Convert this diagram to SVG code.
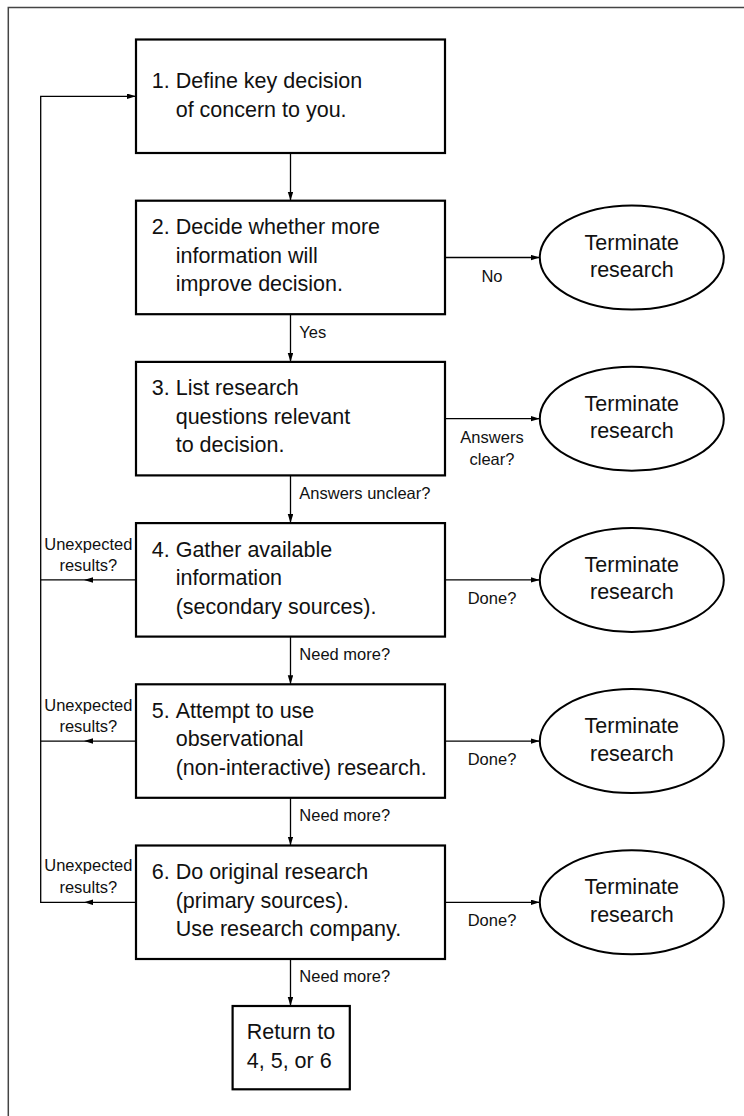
<svg xmlns="http://www.w3.org/2000/svg" width="744" height="1116" viewBox="0 0 744 1116">
<style>
.box{fill:#fff;stroke:#000;stroke-width:2.2}
.ell{fill:#fff;stroke:#000;stroke-width:2}
.t{font-family:"Liberation Sans",Arial,sans-serif;font-size:21.5px;fill:#111}
.l{font-family:"Liberation Sans",Arial,sans-serif;font-size:16.5px;fill:#111}
.c{fill:none;stroke:#000;stroke-width:1.3}
.frame{fill:none;stroke:#444;stroke-width:1.5}
</style>
<defs>
<marker id="ah" markerUnits="userSpaceOnUse" markerWidth="10" markerHeight="7" refX="9" refY="2.75" orient="auto">
<path d="M0,0 L9,2.75 L0,5.5 z" fill="#000"/>
</marker>
</defs>
<path class="frame" d="M8.3,1120 V7.5 H750"/>
<g id="connectors">
<path class="c" d="M290.5,153 V200.7" marker-end="url(#ah)"/>
<path class="c" d="M290.5,314.2 V361.9" marker-end="url(#ah)"/>
<path class="c" d="M290.5,475.4 V523.1" marker-end="url(#ah)"/>
<path class="c" d="M290.5,636.6 V684.3" marker-end="url(#ah)"/>
<path class="c" d="M290.5,797.8 V845.5" marker-end="url(#ah)"/>
<path class="c" d="M290.5,959 V1006" marker-end="url(#ah)"/>
<path class="c" d="M445,257.5 H539.7" marker-end="url(#ah)"/>
<path class="c" d="M445,418.7 H539.7" marker-end="url(#ah)"/>
<path class="c" d="M445,579.9 H539.7" marker-end="url(#ah)"/>
<path class="c" d="M445,741.1 H539.7" marker-end="url(#ah)"/>
<path class="c" d="M445,902.3 H539.7" marker-end="url(#ah)"/>
<path class="c" d="M136,579.9 H84" marker-end="url(#ah)"/>
<path class="c" d="M84,579.9 H40.7"/>
<path class="c" d="M136,741.1 H84" marker-end="url(#ah)"/>
<path class="c" d="M84,741.1 H40.7"/>
<path class="c" d="M136,902.3 H84" marker-end="url(#ah)"/>
<path class="c" d="M84,902.3 H40.7 V96.3 H136" marker-end="url(#ah)"/>
<text class="l" x="299.3" y="337.5">Yes</text>
<text class="l" x="299.3" y="498.7">Answers unclear?</text>
<text class="l" x="299.3" y="659.9">Need more?</text>
<text class="l" x="299.3" y="821.1">Need more?</text>
<text class="l" x="299.3" y="982.3">Need more?</text>
<text class="l" x="492" y="281.7" text-anchor="middle">No</text>
<text class="l" x="492" y="442.7" text-anchor="middle">Answers</text>
<text class="l" x="492" y="464.5" text-anchor="middle">clear?</text>
<text class="l" x="492" y="603.9" text-anchor="middle">Done?</text>
<text class="l" x="492" y="765" text-anchor="middle">Done?</text>
<text class="l" x="492" y="925.5" text-anchor="middle">Done?</text>
<text class="l" x="88.3" y="550" text-anchor="middle">Unexpected</text>
<text class="l" x="88.3" y="571" text-anchor="middle">results?</text>
<text class="l" x="88.3" y="710.5" text-anchor="middle">Unexpected</text>
<text class="l" x="88.3" y="731.8" text-anchor="middle">results?</text>
<text class="l" x="88.3" y="871" text-anchor="middle">Unexpected</text>
<text class="l" x="88.3" y="892.5" text-anchor="middle">results?</text>
</g>
<g id="n1">
<rect class="box" x="136" y="39.5" width="309" height="113.5"/>
<text class="t"><tspan x="151.7" y="88">1.</tspan><tspan x="175.7" y="88">Define key decision</tspan><tspan x="175.7" y="116.5">of concern to you.</tspan></text>
</g>
<g id="n2">
<rect class="box" x="136" y="200.7" width="309" height="113.5"/>
<text class="t"><tspan x="151.7" y="234.2">2.</tspan><tspan x="175.7" y="234.2">Decide whether more</tspan><tspan x="175.7" y="262.7">information will</tspan><tspan x="175.7" y="291.2">improve decision.</tspan></text>
</g>
<g id="n3">
<rect class="box" x="136" y="361.9" width="309" height="113.5"/>
<text class="t"><tspan x="151.7" y="395.4">3.</tspan><tspan x="175.7" y="395.4">List research</tspan><tspan x="175.7" y="423.9">questions relevant</tspan><tspan x="175.7" y="452.4">to decision.</tspan></text>
</g>
<g id="n4">
<rect class="box" x="136" y="523.1" width="309" height="113.5"/>
<text class="t"><tspan x="151.7" y="556.6">4.</tspan><tspan x="175.7" y="556.6">Gather available</tspan><tspan x="175.7" y="585.1">information</tspan><tspan x="175.7" y="613.6">(secondary sources).</tspan></text>
</g>
<g id="n5">
<rect class="box" x="136" y="684.3" width="309" height="113.5"/>
<text class="t"><tspan x="151.7" y="717.8">5.</tspan><tspan x="175.7" y="717.8">Attempt to use</tspan><tspan x="175.7" y="746.3">observational</tspan><tspan x="175.7" y="774.8">(non-interactive) research.</tspan></text>
</g>
<g id="n6">
<rect class="box" x="136" y="845.5" width="309" height="113.5"/>
<text class="t"><tspan x="151.7" y="879">6.</tspan><tspan x="175.7" y="879">Do original research</tspan><tspan x="175.7" y="907.5">(primary sources).</tspan><tspan x="175.7" y="936">Use research company.</tspan></text>
</g>
<g id="n7">
<rect class="box" x="232.6" y="1006" width="117.2" height="83.3"/>
<text class="t"><tspan x="246.8" y="1038.5">Return to</tspan><tspan x="246.8" y="1068">4, 5, or 6</tspan></text>
</g>
<g id="e2">
<ellipse class="ell" cx="631.8" cy="257.5" rx="92" ry="52"/>
<text class="t" text-anchor="middle"><tspan x="631.8" y="249.5">Terminate</tspan><tspan x="631.8" y="277">research</tspan></text>
</g>
<g id="e3">
<ellipse class="ell" cx="631.8" cy="418.7" rx="92" ry="52"/>
<text class="t" text-anchor="middle"><tspan x="631.8" y="410.7">Terminate</tspan><tspan x="631.8" y="438.2">research</tspan></text>
</g>
<g id="e4">
<ellipse class="ell" cx="631.8" cy="579.9" rx="92" ry="52"/>
<text class="t" text-anchor="middle"><tspan x="631.8" y="571.9">Terminate</tspan><tspan x="631.8" y="599.4">research</tspan></text>
</g>
<g id="e5">
<ellipse class="ell" cx="631.8" cy="741.1" rx="92" ry="52"/>
<text class="t" text-anchor="middle"><tspan x="631.8" y="733.1">Terminate</tspan><tspan x="631.8" y="760.6">research</tspan></text>
</g>
<g id="e6">
<ellipse class="ell" cx="631.8" cy="902.3" rx="92" ry="52"/>
<text class="t" text-anchor="middle"><tspan x="631.8" y="894.3">Terminate</tspan><tspan x="631.8" y="921.8">research</tspan></text>
</g>
</svg>
